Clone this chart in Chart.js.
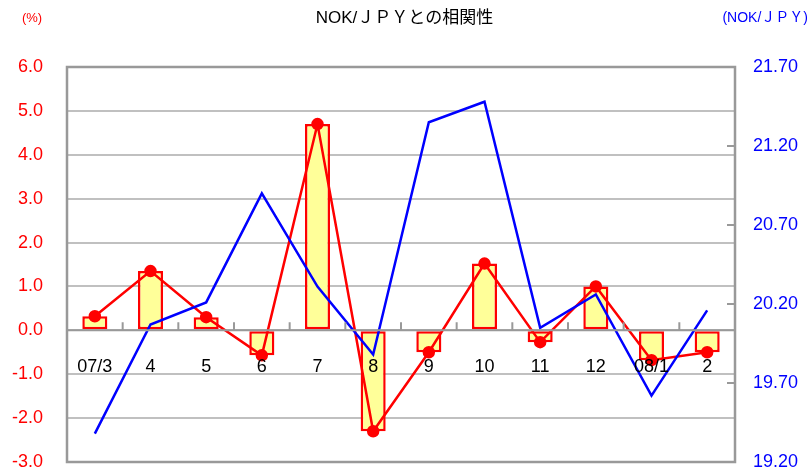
<!DOCTYPE html>
<html>
<head>
<meta charset="utf-8">
<script src="https://cdn.jsdelivr.net/npm/chart.js@4/dist/chart.umd.min.js"></script>
<style>
    html, body { margin: 0; padding: 0; background: #fff; }
    #wrap { width: 809px; height: 474px; }
</style>
</head>
<body>
<div id="wrap"><canvas id="corrChart"></canvas></div>
<script>
// chart data
const months = ['07/3', '4', '5', '6', '7', '8', '9', '10', '11', '12', '08/1', '2'];
const changePct = [0.32, 1.35, 0.30, -0.57, 4.70, -2.30, -0.50, 1.52, -0.27, 1.00, -0.68, -0.50];
const nokJpy = [19.38, 20.07, 20.21, 20.90, 20.31, 19.88, 21.35, 21.48, 20.05, 20.26, 19.62, 20.16];
const leftTicks = [-3, -2, -1, 0, 1, 2, 3, 4, 5, 6];
const rightTicks = [19.2, 19.7, 20.2, 20.7, 21.2, 21.7];

const FONT = "'Liberation Sans', Arial, 'Noto Sans CJK JP', sans-serif";

// frame, zero axis with tick marks, category labels, unit captions
const decorations = {
    id: 'decorations',
    afterDatasetsDraw(chart) {
        const { ctx, chartArea, scales } = chart;
        const x = scales.x, y = scales.y, y1 = scales.y1;
        const zeroY = y.getPixelForValue(0);
        ctx.save();
        ctx.strokeStyle = '#999';
        ctx.lineWidth = 2;
        ctx.beginPath();
        ctx.moveTo(chartArea.left, zeroY);
        ctx.lineTo(chartArea.right, zeroY);
        for (let i = 1; i < months.length; i++) {
            const bx = (x.getPixelForValue(i - 1) + x.getPixelForValue(i)) / 2;
            ctx.moveTo(bx, zeroY);
            ctx.lineTo(bx, zeroY - 8);
        }
        rightTicks.forEach(v => {
            const ty = y1.getPixelForValue(v);
            ctx.moveTo(chartArea.right, ty);
            ctx.lineTo(chartArea.right - 8, ty);
        });
        ctx.stroke();
        ctx.lineWidth = 2.5;
        ctx.strokeRect(chartArea.left, chartArea.top, chartArea.right - chartArea.left, chartArea.bottom - chartArea.top);

        ctx.fillStyle = '#000';
        ctx.font = '18px ' + FONT;
        ctx.textAlign = 'center';
        ctx.textBaseline = 'middle';
        months.forEach((m, i) => {
            ctx.fillText(m, x.getPixelForValue(i), zeroY + 37);
        });

        ctx.font = '13px ' + FONT;
        ctx.fillStyle = '#ff0000';
        ctx.fillText('(%)', 32, 18);
        ctx.font = '14px ' + FONT;
        ctx.fillStyle = '#0000ff';
        ctx.textAlign = 'right';
        ctx.fillText('(NOK/ＪＰＹ)', 808, 18);
        ctx.restore();
    }
};

new Chart(document.getElementById('corrChart'), {
    data: {
        labels: months,
        datasets: [{
            type: 'line',
            label: 'NOK/JPY',
            data: nokJpy,
            yAxisID: 'y1',
            borderColor: '#0000ff',
            borderWidth: 2.5,
            pointRadius: 0,
            tension: 0,
            order: 0
        }, {
            type: 'line',
            label: '変化率',
            data: changePct,
            yAxisID: 'y',
            borderColor: '#ff0000',
            backgroundColor: '#ff0000',
            borderWidth: 2.5,
            pointRadius: 5,
            tension: 0,
            order: 1
        }, {
            type: 'bar',
            label: '変化率(棒)',
            data: changePct,
            yAxisID: 'y',
            backgroundColor: '#ffff99',
            borderColor: '#ff0000',
            borderWidth: 2.5,
            borderSkipped: false,
            categoryPercentage: 1,
            barPercentage: 0.45,
            order: 2
        }]
    },
    options: {
        responsive: true,
        maintainAspectRatio: false,
        animation: false,
        layout: { padding: { left: 0, right: 0, top: 0, bottom: 12 } },
        plugins: {
            legend: { display: false },
            tooltip: { enabled: false },
            title: {
                display: true,
                text: 'NOK/ＪＰＹとの相関性',
                color: '#000',
                font: { family: FONT, size: 17, weight: 'normal' },
                padding: { top: 8, bottom: 38.6 }
            }
        },
        scales: {
            x: {
                display: false,
                offset: true
            },
            y: {
                position: 'left',
                min: -3,
                max: 6,
                afterBuildTicks: (s) => { s.ticks = leftTicks.map(v => ({ value: v })); },
                afterFit: (s) => { s.width = 67; s.paddingTop = 0; s.paddingBottom = 0; },
                border: { display: false },
                grid: { color: '#c0c0c0', lineWidth: 2, drawTicks: false },
                ticks: {
                    color: '#ff0000',
                    padding: 24,
                    font: { family: FONT, size: 18 },
                    callback: (v) => Number(v).toFixed(1)
                }
            },
            y1: {
                position: 'right',
                min: 19.2,
                max: 21.7,
                afterBuildTicks: (s) => { s.ticks = rightTicks.map(v => ({ value: v })); },
                afterFit: (s) => { s.width = 74; s.paddingTop = 0; s.paddingBottom = 0; },
                border: { display: false },
                grid: { drawOnChartArea: false, drawTicks: false },
                ticks: {
                    color: '#0000ff',
                    padding: 18,
                    font: { family: FONT, size: 18 },
                    callback: (v) => Number(v).toFixed(2)
                }
            }
        }
    },
    plugins: [decorations]
});
</script>
</body>
</html>
